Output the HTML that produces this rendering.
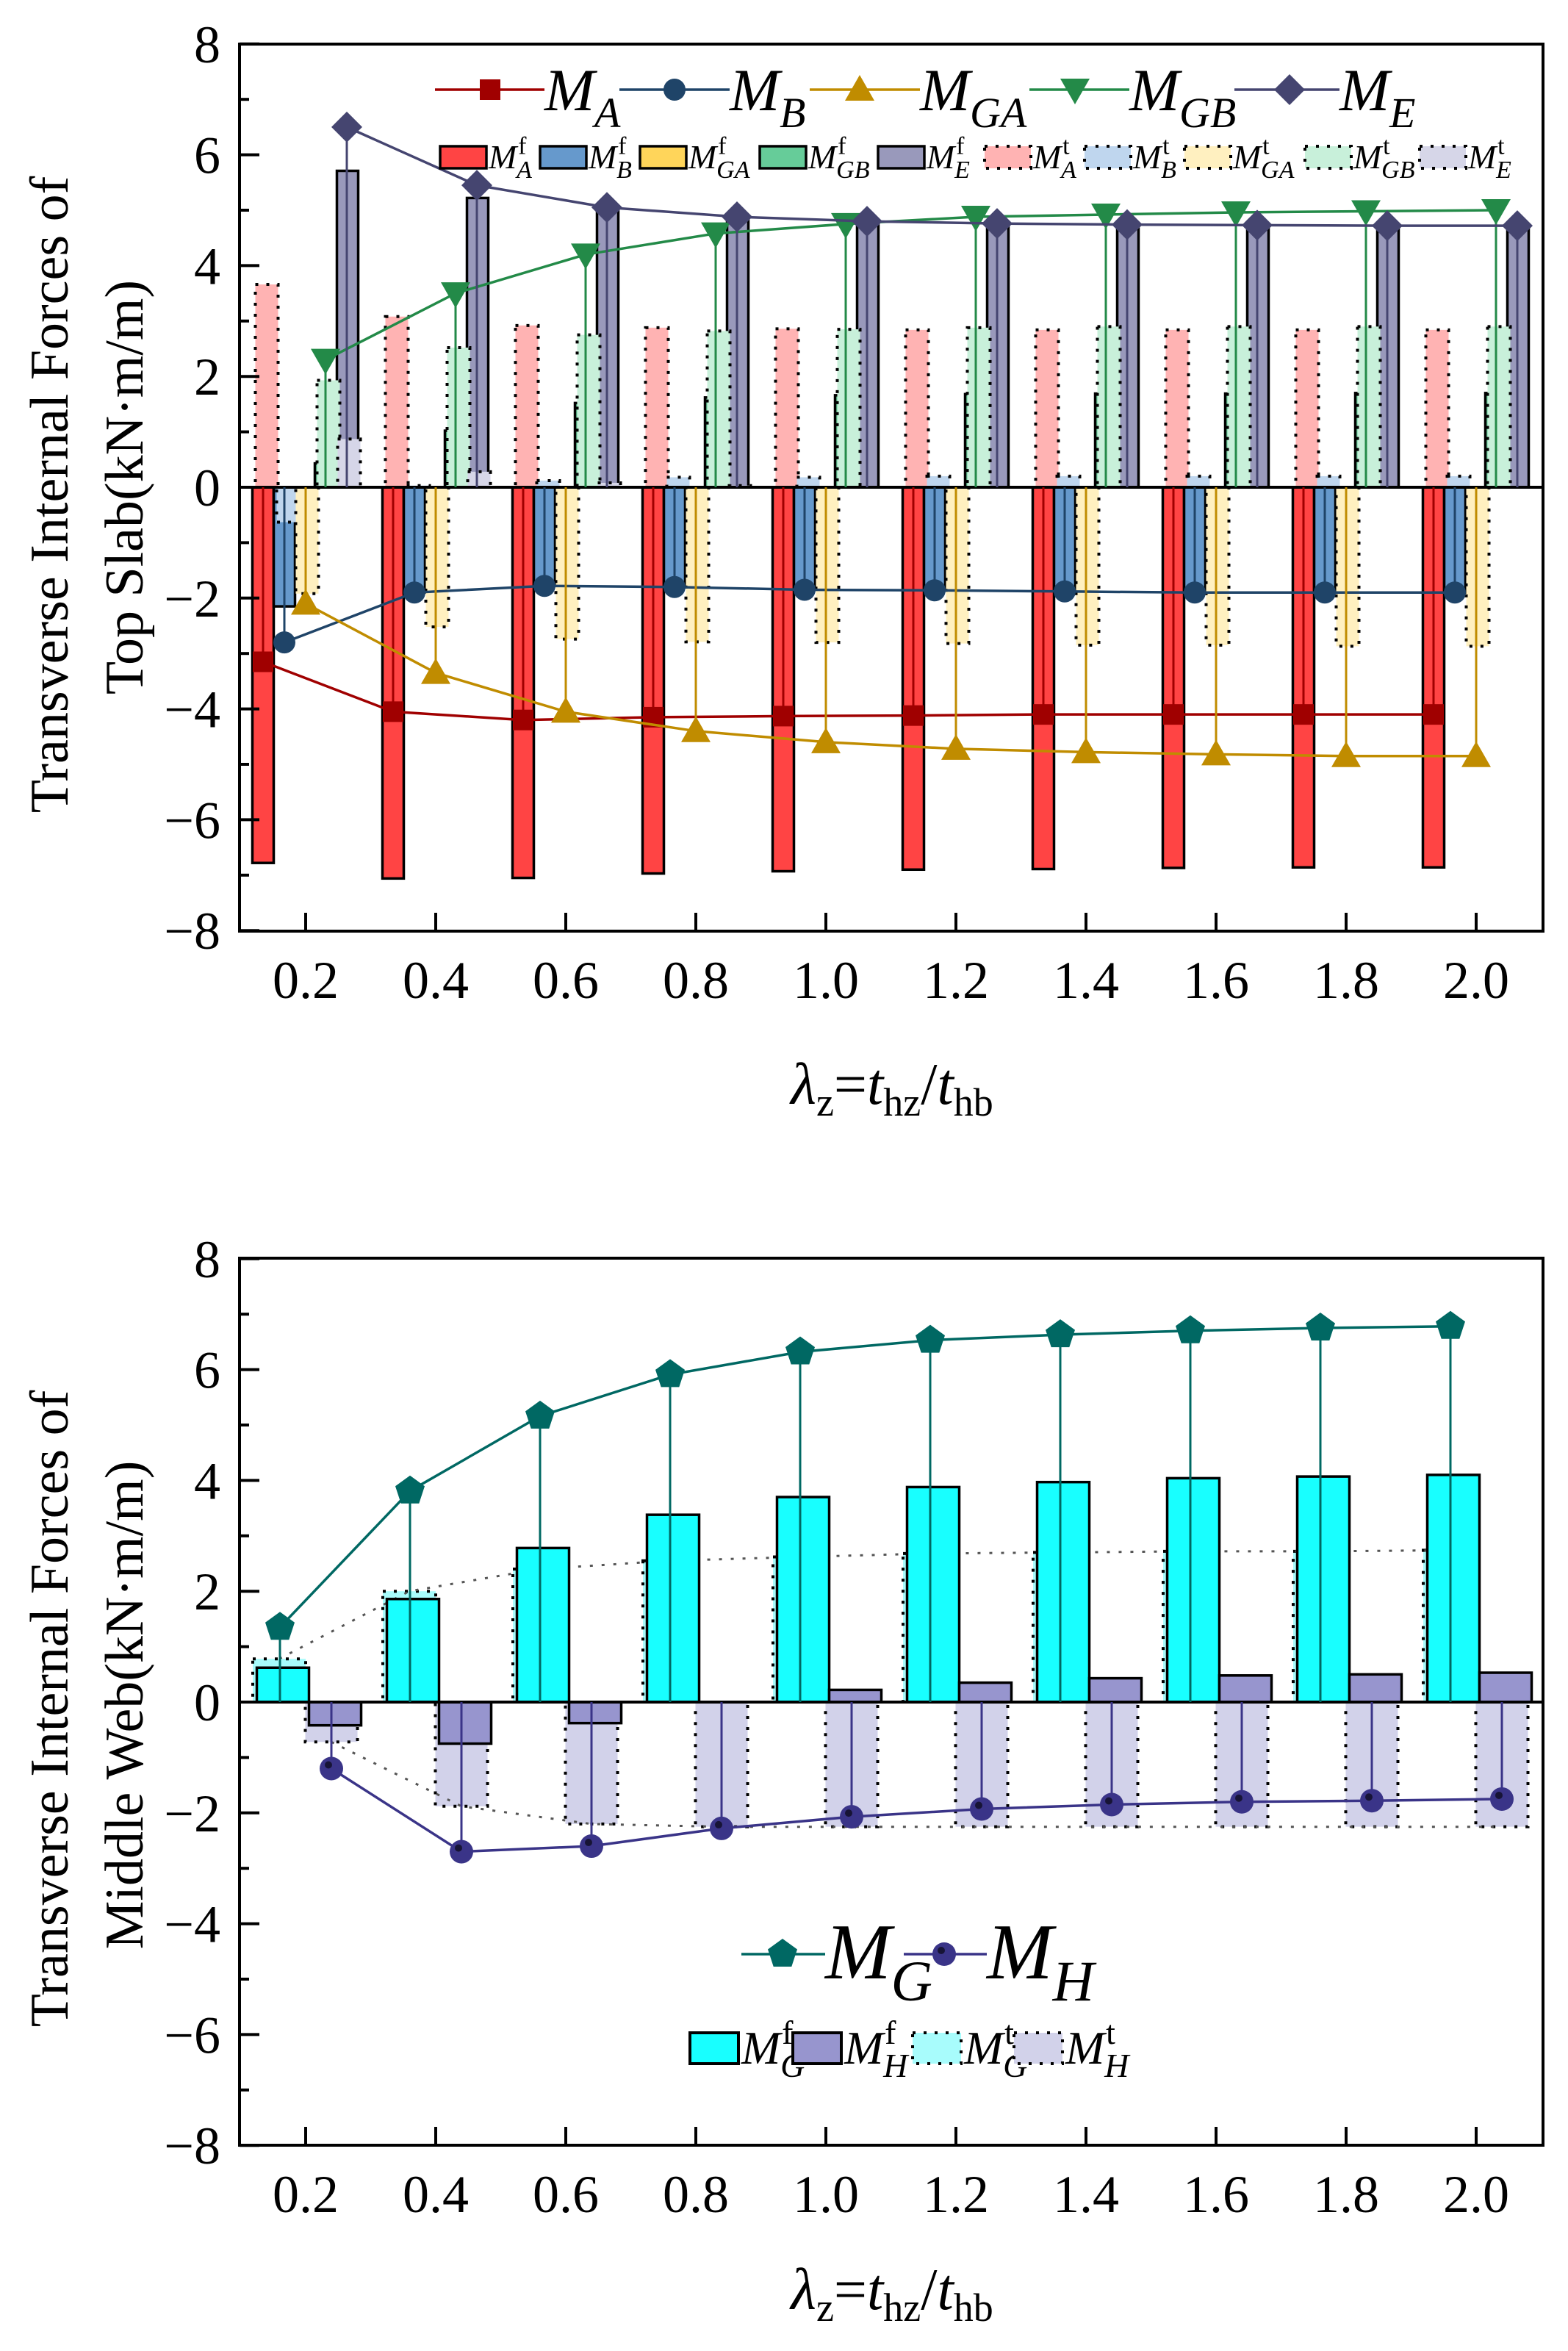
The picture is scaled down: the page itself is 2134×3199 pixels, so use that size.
<!DOCTYPE html>
<html><head><meta charset="utf-8"><style>
html,body{margin:0;padding:0;background:#fff;}
svg{display:block;font-family:"Liberation Serif",serif;}
</style></head><body>
<svg id="fig" xmlns="http://www.w3.org/2000/svg" width="2134" height="3199" viewBox="0 0 2134 3199">
<rect x="0" y="0" width="2134" height="3199" fill="#fff"/>
<g id="top"></g>
<g id="bot"></g>
<text x="75" y="673" font-size="74" text-anchor="middle" transform="rotate(-90 75 673)" dominant-baseline="middle">Transverse Internal Forces of</text>
<text x="177" y="663" font-size="74" text-anchor="middle" transform="rotate(-90 177 663)" dominant-baseline="middle">Top Slab(kN·m/m)</text>
<text x="75" y="2325" font-size="74" text-anchor="middle" transform="rotate(-90 75 2325)" dominant-baseline="middle">Transverse Internal Forces of</text>
<text x="177" y="2320" font-size="74" text-anchor="middle" transform="rotate(-90 177 2320)" dominant-baseline="middle">Middle Web(kN·m/m)</text>
<text x="1214" y="1502" font-size="80" text-anchor="middle"><tspan font-style="italic">λ</tspan><tspan font-size="54" dy="16">z</tspan><tspan dy="-16">=</tspan><tspan font-style="italic">t</tspan><tspan font-size="54" dy="16">hz</tspan><tspan dy="-16">/</tspan><tspan font-style="italic">t</tspan><tspan font-size="54" dy="16">hb</tspan></text>
<text x="1214" y="3142" font-size="80" text-anchor="middle"><tspan font-style="italic">λ</tspan><tspan font-size="54" dy="16">z</tspan><tspan dy="-16">=</tspan><tspan font-style="italic">t</tspan><tspan font-size="54" dy="16">hz</tspan><tspan dy="-16">/</tspan><tspan font-style="italic">t</tspan><tspan font-size="54" dy="16">hb</tspan></text>
</svg>
<script>
const cats = [0.2, 0.4, 0.6, 0.8, 1.0, 1.2, 1.4, 1.6, 1.8, 2.0];
const xTickLabels = ["0.2","0.4","0.6","0.8","1.0","1.2","1.4","1.6","1.8","2.0"];
const yTicks = [-8, -6, -4, -2, 0, 2, 4, 6, 8];
const yTickLabels = ["−8","−6","−4","−2","0","2","4","6","8"];
// top chart
const MA  = [-3.15, -4.05, -4.2, -4.15, -4.13, -4.12, -4.1, -4.1, -4.1, -4.1];
const MB  = [-2.8, -1.9, -1.78, -1.8, -1.85, -1.86, -1.88, -1.9, -1.9, -1.9];
const MGA = [-2.1, -3.35, -4.05, -4.4, -4.6, -4.72, -4.78, -4.82, -4.85, -4.85];
const MGB = [2.3, 3.5, 4.2, 4.58, 4.75, 4.88, 4.92, 4.96, 4.98, 5.0];
const ME  = [6.5, 5.45, 5.05, 4.88, 4.8, 4.76, 4.74, 4.73, 4.72, 4.72];
const MAf  = [-6.78, -7.06, -7.05, -6.97, -6.93, -6.9, -6.89, -6.87, -6.86, -6.86];
const MBf  = [-2.15, -1.9, -1.78, -1.8, -1.85, -1.86, -1.88, -1.9, -1.9, -1.9];
const MGAf = [0, 0, 0, 0, 0, 0, 0, 0, 0, 0];
const MGBf = [0.43, 1.02, 1.52, 1.62, 1.66, 1.68, 1.69, 1.69, 1.7, 1.7];
const MEf  = [5.71, 5.22, 5.0, 4.85, 4.78, 4.74, 4.72, 4.71, 4.7, 4.7];
const MAt  = [3.66, 3.08, 2.92, 2.88, 2.86, 2.84, 2.84, 2.84, 2.84, 2.84];
const MBt  = [-0.63, 0.03, 0.12, 0.18, 0.18, 0.2, 0.2, 0.2, 0.2, 0.2];
const MGAt = [-1.92, -2.52, -2.74, -2.79, -2.8, -2.82, -2.85, -2.85, -2.87, -2.87];
const MGBt = [1.93, 2.52, 2.75, 2.82, 2.85, 2.88, 2.9, 2.9, 2.9, 2.9];
const MEt  = [0.87, 0.28, 0.08, 0.03, 0, 0, 0, 0, 0, 0];
// bottom chart
const MG  = [1.35, 3.81, 5.16, 5.91, 6.32, 6.53, 6.63, 6.7, 6.75, 6.78];
const MH  = [-1.2, -2.7, -2.6, -2.28, -2.07, -1.93, -1.85, -1.8, -1.78, -1.75];
const MGf = [0.62, 1.86, 2.78, 3.38, 3.7, 3.88, 3.97, 4.04, 4.07, 4.1];
const MHf = [-0.42, -0.75, -0.38, 0, 0.22, 0.35, 0.43, 0.48, 0.5, 0.53];
const MGt = [0.78, 2.0, 2.4, 2.55, 2.62, 2.68, 2.7, 2.72, 2.72, 2.74];
const MHt = [-0.72, -1.88, -2.2, -2.25, -2.25, -2.25, -2.25, -2.25, -2.25, -2.25];

const NS = "http://www.w3.org/2000/svg";
function mk(tag, attrs, parent, name, inter) {
  const el = document.createElementNS(NS, tag);
  for (const k in attrs) el.setAttribute(k, attrs[k]);
  
  
  parent.appendChild(el);
  return el;
}
function xScale(v) { return 416 + (v - 0.2) * 885; }
const L = 326, R = 2100;
function mkY(zero) { return v => zero - v * 75.4; }

function marker(g, type, x, y, color, name) {
  if (type === 'square') mk('rect', {x: x-14, y: y-14, width: 28, height: 28, fill: color}, g, name);
  else if (type === 'circle') mk('circle', {cx: x, cy: y, r: 15, fill: color}, g, name);
  else if (type === 'sphere') { mk('circle', {cx: x, cy: y, r: 16, fill: color}, g, name); mk('circle', {cx: x-4, cy: y-5, r: 5, fill: '#000', opacity: 0.6}, g, name + '-shade'); }
  else if (type === 'tri-up') mk('polygon', {points: `${x},${y-20} ${x+20},${y+15} ${x-20},${y+15}`, fill: color}, g, name);
  else if (type === 'tri-down') mk('polygon', {points: `${x},${y+20} ${x+20},${y-15} ${x-20},${y-15}`, fill: color}, g, name);
  else if (type === 'diamond') mk('polygon', {points: `${x},${y-21} ${x+21},${y} ${x},${y+21} ${x-21},${y}`, fill: color}, g, name);
  else if (type === 'pentagon') {
    let p = [];
    for (let i = 0; i < 5; i++) { const a = -Math.PI/2 + i*2*Math.PI/5; p.push((x+21*Math.cos(a)).toFixed(1)+','+(y+21*Math.sin(a)).toFixed(1)); }
    mk('polygon', {points: p.join(' '), fill: color}, g, name);
  }
}

function axes(g, top, bottom, zero, Y, prefix) {
  mk('rect', {x: L, y: top, width: R-L, height: bottom-top, fill: 'none', stroke: '#000', 'stroke-width': 4}, g, prefix + '-plot-frame');
  yTicks.forEach((t, i) => {
    const y = Y(t);
    mk('line', {x1: L, x2: L+27, y1: y, y2: y, stroke: '#000', 'stroke-width': 4}, g, prefix + '-y-tick');
    if (i < yTicks.length - 1) { const ym = Y(t+1); mk('line', {x1: L, x2: L+13, y1: ym, y2: ym, stroke: '#000', 'stroke-width': 4}, g, prefix + '-y-minor-tick'); }
    const tx = mk('text', {x: 300, y: y+25, 'font-size': 72, 'text-anchor': 'end'}, g, prefix + '-y-tick-label');
    tx.textContent = yTickLabels[i];
  });
  cats.forEach((c, i) => {
    const x = xScale(c);
    mk('line', {x1: x, x2: x, y1: bottom, y2: bottom-25, stroke: '#000', 'stroke-width': 4}, g, prefix + '-x-tick');
    const tx = mk('text', {x: x, y: bottom+91, 'font-size': 72, 'text-anchor': 'middle'}, g, prefix + '-x-tick-label');
    tx.textContent = xTickLabels[i];
  });
}

function bar(g, cx, w, v, Y, fill, dotted, name) {
  if (v === 0) return;
  const y0 = Y(0), y1 = Y(v);
  const a = {x: cx - w/2, y: Math.min(y0, y1), width: w, height: Math.abs(y1 - y0), fill: fill, stroke: '#000', 'stroke-width': dotted ? 4 : 3.5};
  if (dotted) a['stroke-dasharray'] = '4 11';
  mk('rect', a, g, name);
}

function series(g, xs, vals, Y, color, type, name) {
  const pts = xs.map((x, i) => x.toFixed(1) + ',' + Y(vals[i]).toFixed(1)).join(' ');
  xs.forEach((x, i) => mk('line', {x1: x, x2: x, y1: Y(0), y2: Y(vals[i]), stroke: color, 'stroke-width': 3}, g, name + '-dropline'));
  mk('polyline', {points: pts, fill: 'none', stroke: color, 'stroke-width': 3.5}, g, name + '-line');
  xs.forEach((x, i) => marker(g, type, x, Y(vals[i]), color, name + '-point'));
}

function legText(g, x, yBase, fs, sub, sup, name, subFs) {
  const t = mk('text', {x: x, y: yBase, 'font-size': fs, 'font-style': 'italic'}, g, name);
  t.textContent = 'M';
  const w = fs * 0.83;
  if (sub) { const s = mk('text', {x: x + w, y: yBase + fs*0.28, 'font-size': subFs, 'font-style': 'italic'}, g, name + '-sub'); s.textContent = sub; }
  if (sup) { const s = mk('text', {x: x + w + 2, y: yBase - fs*0.42, 'font-size': subFs, 'font-style': 'normal'}, g, name + '-sup'); s.textContent = sup; }
}

// ===== TOP CHART =====
(function(){
  const g = document.getElementById('top');
  const Y = mkY(663);
  const fSeries = [MAf, MBf, MGAf, MGBf, MEf];
  const tSeries = [MAt, MBt, MGAt, MGBt, MEt];
  const fCol = ['#FF4444', '#6699CC', '#FFD55A', '#66CC99', '#9999BB'];
  const tCol = ['#FFB3B3', '#BFD6EE', '#FFF0C0', '#C8F0DA', '#D6D6E8'];
  const fOff = [-58, -29, 0, 27, 57];
  const tOff = [-53, -24, 2, 31, 59];
  const keys = ['a','b','ga','gb','e'];
  fSeries.forEach((s, k) => cats.forEach((c, i) => bar(g, xScale(c)+fOff[k], 29, s[i], Y, fCol[k], false, 'bar-m' + keys[k] + '-f')));
  tSeries.forEach((s, k) => cats.forEach((c, i) => bar(g, xScale(c)+tOff[k], 31, s[i], Y, tCol[k], true, 'bar-m' + keys[k] + '-t')));
  axes(g, 60, 1267, 663, Y, 'top');
  mk('line', {x1: L, x2: R, y1: Y(0), y2: Y(0), stroke: '#000', 'stroke-width': 4}, g, 'top-zero-line');
  const pOff = [-58, -29, 0, 27, 56];
  const vals = [MA, MB, MGA, MGB, ME];
  const cols = ['#A00000', '#1F4468', '#C08C00', '#238A48', '#454570'];
  const types = ['square', 'circle', 'tri-up', 'tri-down', 'diamond'];
  vals.forEach((v, k) => series(g, cats.map(c => xScale(c) + pOff[k]), v, Y, cols[k], types[k], 'series-m' + keys[k]));
  const lg = [[592,741,667,'A'],[843,993,918,'B'],[1102,1252,1170,'GA'],[1401,1537,1463,'GB'],[1680,1823,1755,'E']];
  lg.forEach((e, k) => {
    mk('line', {x1: e[0], x2: e[1], y1: 122, y2: 122, stroke: cols[k], 'stroke-width': 3.5}, g, 'legend-line-m' + keys[k]);
    marker(g, types[k], e[2], 122, cols[k], 'legend-marker-m' + keys[k]);
    legText(g, e[1], 150, 82, e[3], null, 'legend-label-m' + keys[k], 58);
  });
  const bx = [599, 735, 871, 1034, 1195, 1340, 1476, 1612, 1776, 1932];
  const subs = ['A','B','GA','GB','E'];
  bx.forEach((x, j) => {
    const k = j % 5, isT = j >= 5;
    const a = {x: x, y: 199, width: 63, height: 30, fill: isT ? tCol[k] : fCol[k], stroke: '#000', 'stroke-width': isT ? 4 : 3.5};
    if (isT) a['stroke-dasharray'] = '4 11';
    mk('rect', a, g, 'legend-box-m' + keys[k] + (isT ? '-t' : '-f'));
    legText(g, x + 66, 229, 46, subs[k], isT ? 't' : 'f', 'legend-label-m' + keys[k] + (isT ? '-t' : '-f'), 34);
  });
})();

// ===== BOTTOM CHART =====
(function(){
  const g = document.getElementById('bot');
  const Y = mkY(2316);
  const tgx = cats.map(c => xScale(c) - 36);
  const thx = cats.map(c => xScale(c) + 35);
  cats.forEach((c, i) => bar(g, xScale(c)-36, 72, MGt[i], Y, '#A8FCFC', true, 'bar-mg-t'));
  cats.forEach((c, i) => bar(g, xScale(c)+35, 71, MHt[i], Y, '#D2D2EA', true, 'bar-mh-t'));
  mk('polyline', {points: tgx.map((x, i) => x.toFixed(1) + ',' + Y(MGt[i]).toFixed(1)).join(' '), fill: 'none', stroke: '#555', 'stroke-width': 3, 'stroke-dasharray': '4 12'}, g, 'mg-t-guide-curve');
  mk('polyline', {points: thx.map((x, i) => x.toFixed(1) + ',' + Y(MHt[i]).toFixed(1)).join(' '), fill: 'none', stroke: '#555', 'stroke-width': 3, 'stroke-dasharray': '4 12'}, g, 'mh-t-guide-curve');
  cats.forEach((c, i) => bar(g, xScale(c)-31, 71, MGf[i], Y, '#18FFFF', false, 'bar-mg-f'));
  cats.forEach((c, i) => bar(g, xScale(c)+40, 71, MHf[i], Y, '#9795CE', false, 'bar-mh-f'));
  axes(g, 1712, 2919, 2316, Y, 'bottom');
  mk('line', {x1: L, x2: R, y1: Y(0), y2: Y(0), stroke: '#000', 'stroke-width': 4}, g, 'bottom-zero-line');
  series(g, cats.map(c => xScale(c) - 35), MG, Y, '#006863', 'pentagon', 'series-mg');
  series(g, cats.map(c => xScale(c) + 35), MH, Y, '#3A3488', 'sphere', 'series-mh');
  mk('line', {x1: 1009, x2: 1123, y1: 2659, y2: 2659, stroke: '#006863', 'stroke-width': 3.5}, g, 'legend-line-mg');
  marker(g, 'pentagon', 1065, 2659, '#006863', 'legend-marker-mg');
  legText(g, 1123, 2692, 108, 'G', null, 'legend-label-mg', 78);
  mk('line', {x1: 1230, x2: 1343, y1: 2659, y2: 2659, stroke: '#3A3488', 'stroke-width': 3.5}, g, 'legend-line-mh');
  marker(g, 'sphere', 1285, 2659, '#3A3488', 'legend-marker-mh');
  legText(g, 1343, 2692, 108, 'H', null, 'legend-label-mh', 78);
  const lb = [[939,'#18FFFF',false,'G'],[1079,'#9795CE',false,'H'],[1242,'#A8FCFC',true,'G'],[1380,'#D2D2EA',true,'H']];
  lb.forEach(e => {
    const a = {x: e[0], y: 2766, width: 66, height: 42, fill: e[1], stroke: '#000', 'stroke-width': 4};
    if (e[2]) a['stroke-dasharray'] = '4 11';
    mk('rect', a, g, 'legend-box-m' + e[3].toLowerCase() + (e[2] ? '-t' : '-f'));
    legText(g, e[0] + 70, 2808, 64, e[3], e[2] ? 't' : 'f', 'legend-label-m' + e[3].toLowerCase() + (e[2] ? '-t' : '-f'), 46);
  });
})();
</script>
</body></html>
